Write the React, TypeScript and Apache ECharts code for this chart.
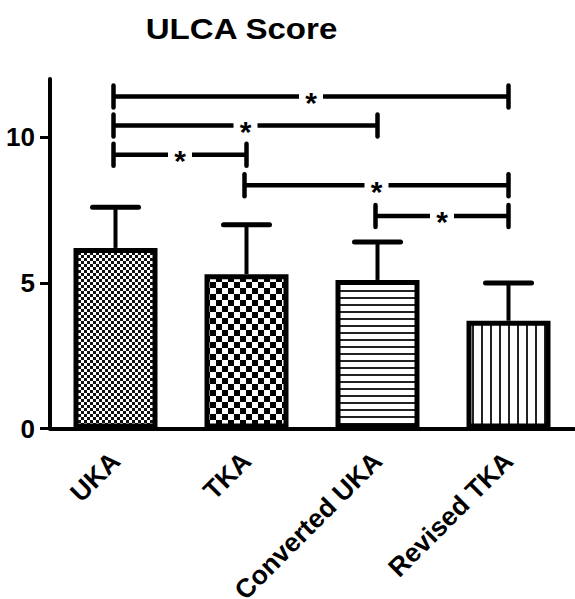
import React, { useEffect, useRef } from 'react';
import * as echarts from 'echarts';

const titleText = 'ULCA Score';
const categories = ['UKA', 'TKA', 'Converted UKA', 'Revised TKA'];
const means = [6.2, 5.3, 5.1, 3.7];
const errorTops = [7.6, 7.0, 6.4, 5.0];
const yTicks = [0, 5, 10];
const bracketFrom = [0, 0, 0, 1, 2];
const bracketTo = [3, 2, 1, 3, 3];
const bracketLevel = [11.4, 10.4, 9.4, 8.35, 7.3];
const bracketMark = ['*', '*', '*', '*', '*'];
const patternKinds = ['fineChecker', 'checker', 'hLines', 'vLines'];

const FONT = '"Liberation Sans", Arial, Helvetica, sans-serif';

function makePattern(kind: string): any {
  const c = document.createElement('canvas');
  let w = 6, h = 6;
  if (kind === 'fineChecker') { w = 6; h = 6; }
  if (kind === 'checker') { w = 12; h = 12; }
  if (kind === 'hLines') { w = 8; h = 7; }
  if (kind === 'vLines') { w = 9; h = 8; }
  c.width = w; c.height = h;
  const ctx = c.getContext('2d')!;
  ctx.fillStyle = '#fff';
  ctx.fillRect(0, 0, w, h);
  ctx.fillStyle = '#000';
  if (kind === 'fineChecker') {
    ctx.fillStyle = '#111';
    ctx.fillRect(0, 0, 3, 3);
    ctx.fillRect(3, 3, 3, 3);
  } else if (kind === 'checker') {
    ctx.fillRect(0, 0, 6, 6);
    ctx.fillRect(6, 6, 6, 6);
  } else if (kind === 'hLines') {
    ctx.fillStyle = '#222';
    ctx.fillRect(0, 3, w, 2);
  } else if (kind === 'vLines') {
    ctx.fillStyle = '#222';
    ctx.fillRect(4, 0, 2, h);
  }
  return { image: c, repeat: 'repeat', imageWidth: w, imageHeight: h };
}

export default function App() {
  const ref = useRef<HTMLDivElement>(null);
  useEffect(() => {
    document.body.style.margin = '0';
    const chart = echarts.init(ref.current!, null, { renderer: 'svg' });
    const patterns = patternKinds.map(makePattern);
    const option: any = {
      animation: false,
      backgroundColor: '#fff',
      graphic: [
        {
          type: 'text',
          x: 241.5,
          y: 29,
          scaleX: 1.14,
          style: {
            text: titleText,
            font: `bold 29px ${FONT}`,
            fill: '#000',
            textAlign: 'center',
            textVerticalAlign: 'middle',
          },
        },
      ],
      grid: { left: 50, right: 1, top: 79, bottom: 170.5, containLabel: false, outerBoundsMode: 'none' },
      xAxis: {
        type: 'category',
        data: categories,
        boundaryGap: true,
        axisLine: { lineStyle: { color: '#000', width: 4 } },
        axisTick: { alignWithLabel: true, length: 10, lineStyle: { color: '#000', width: 3 } },
        axisLabel: {
          rotate: 45,
          interval: 0,
          margin: 28,
          color: '#000',
          fontSize: 26.5,
          fontWeight: 'bold',
          fontFamily: FONT,
        },
        splitLine: { show: false },
      },
      yAxis: {
        type: 'value',
        min: 0,
        max: 12,
        axisLine: { show: true, lineStyle: { color: '#000', width: 4 } },
        axisTick: { show: true, length: 10, customValues: yTicks, lineStyle: { color: '#000', width: 3 } },
        axisLabel: {
          customValues: yTicks,
          margin: 15,
          color: '#000',
          fontSize: 26,
          fontWeight: 'bold',
          fontFamily: FONT,
        },
        splitLine: { show: false },
      },
      series: [
        {
          type: 'custom',
          z: 1,
          data: categories.map((c, i) => [i, errorTops[i], means[i]]),
          encode: { x: 0, y: 1 },
          renderItem: (params: any, api: any) => {
            const x = api.value(0);
            const top = api.value(1);
            const base = api.value(2);
            const p0 = api.coord([x, base]);
            const p1 = api.coord([x, top]);
            const half = 23;
            return {
              type: 'group',
              children: [
                { type: 'line', shape: { x1: p0[0], y1: p0[1], x2: p1[0], y2: p1[1] }, style: { stroke: '#000', lineWidth: 4 } },
                { type: 'line', shape: { x1: p1[0] - half, y1: p1[1], x2: p1[0] + half, y2: p1[1] }, style: { stroke: '#000', lineWidth: 5, lineCap: 'round' } },
              ],
            };
          },
        },
        {
          type: 'bar',
          z: 2,
          barWidth: 84,
          data: means.map((v, i) => ({
            value: v,
            itemStyle: { color: patterns[i], borderColor: '#000', borderWidth: 5 },
          })),
        },
        {
          type: 'custom',
          z: 3,
          data: bracketFrom.map((f, i) => [f, bracketTo[i], bracketLevel[i]]),
          encode: { x: 0, y: 2 },
          renderItem: (params: any, api: any) => {
            const idx = params.dataIndex;
            const a = api.coord([api.value(0), api.value(2)]);
            const b = api.coord([api.value(1), api.value(2)]);
            const x1 = a[0] - 2;
            const x2 = b[0];
            const y = a[1];
            const mid = (x1 + x2) / 2;
            const gap = 12;
            const th = 11;
            const st = { stroke: '#000', lineWidth: 4.5, lineCap: 'round' };
            return {
              type: 'group',
              children: [
                { type: 'line', shape: { x1, y1: y, x2: mid - gap, y2: y }, style: { stroke: '#000', lineWidth: 4.5 } },
                { type: 'line', shape: { x1: mid + gap, y1: y, x2, y2: y }, style: { stroke: '#000', lineWidth: 4.5 } },
                { type: 'line', shape: { x1, y1: y - th, x2: x1, y2: y + th }, style: st },
                { type: 'line', shape: { x1: x2, y1: y - th, x2, y2: y + th }, style: st },
                {
                  type: 'text',
                  x: mid,
                  y: y + 6,
                  style: {
                    text: bracketMark[idx],
                    font: `bold 30px ${FONT}`,
                    fill: '#000',
                    textAlign: 'center',
                    textVerticalAlign: 'middle',
                  },
                },
              ],
            };
          },
        },
      ],
    };
    chart.setOption(option);
    return () => chart.dispose();
  }, []);
  return <div ref={ref} style={{ position: 'absolute', left: 0, top: 0, width: 575, height: 599 }} />;
}
